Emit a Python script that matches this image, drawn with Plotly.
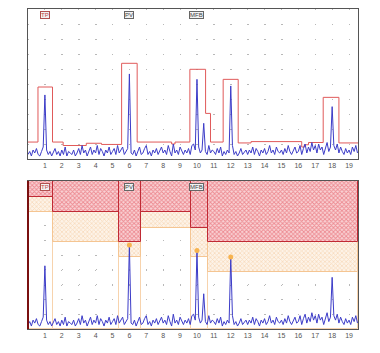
import plotly.graph_objects as go

# ---------------- data ----------------
x_ticks = list(range(1, 20))
x_max = 19.53

# spectrum (step 0.1 from 0.0)
spectrum = [
    0.3, 0.5, 0.2, 0.6, 0.4, 0.7, 0.3, 0.2, 0.5, 0.8,
    4.27, 0.6, 0.3, 0.5, 0.2, 0.4, 0.7, 0.3, 0.5, 0.2,
    0.6, 0.3, 0.8, 0.2, 0.5, 0.4, 0.3, 0.6, 0.2, 0.4,
    0.7, 0.3, 0.9, 0.4, 0.6, 0.2, 0.5, 0.8, 0.3, 0.6,
    0.4, 0.9, 0.3, 0.7, 0.5, 0.2, 0.6, 0.4, 0.8, 0.3,
    0.5, 0.7, 0.3, 0.9, 0.4, 0.6, 0.8, 0.3, 0.5, 0.7,
    5.67, 0.4, 0.3, 0.6, 0.2, 0.5, 0.8, 0.3, 0.4, 0.7,
    0.9, 0.3, 0.5, 0.2, 0.6, 0.4, 0.7, 0.3, 0.5, 0.8,
    0.4, 0.6, 0.3, 0.9, 0.5, 0.2, 1.0, 0.4, 0.6, 0.3,
    0.8, 0.5, 0.3, 0.6, 0.4, 0.7, 0.3, 0.9, 1.0, 0.6,
    5.31, 0.8, 0.4, 0.6, 2.38, 0.5, 0.3, 0.9, 0.4, 0.6,
    0.5, 0.3, 0.7, 0.4, 0.8, 0.2, 0.5, 0.3, 0.6, 0.4,
    4.87, 0.9, 0.3, 0.5, 0.2, 0.4, 0.7, 0.3, 0.5, 0.6,
    0.3, 0.6, 0.4, 0.8, 0.3, 0.7, 0.5, 0.2, 0.6, 0.4,
    0.7, 0.3, 0.5, 0.9, 0.4, 0.6, 0.3, 0.8, 0.5, 0.4,
    0.6, 0.3, 0.7, 0.4, 0.9, 0.5, 0.3, 0.6, 0.8, 0.4,
    0.5, 0.9, 0.3, 0.7, 1.0, 0.4, 0.8, 0.5, 1.1, 0.6,
    0.9, 0.4, 1.0, 0.6, 0.8, 0.3, 0.7, 1.1, 0.5, 0.8,
    3.49, 0.9, 0.6, 1.0, 0.4, 0.8, 0.5, 0.3, 0.7, 0.4,
    0.6, 0.3, 0.8, 0.5, 0.9, 0.4,
]
spectrum_x = [i / 10 for i in range(len(spectrum))]

# top panel envelope (step line)
env_x = [0, 0.59, 1.45, 2.08, 3.45, 4.35, 5.54, 6.46, 8.5, 8.7, 9.58, 10.51,
         10.80, 11.55, 12.44, 13.2, 16.2, 16.35, 16.6, 17.47, 18.4, 19.53]
env_y = [1.13, 4.8, 1.13, 0.9, 1.05, 0.97, 6.38, 1.13, 1.0, 1.13, 5.98, 3.04,
         1.13, 5.31, 1.07, 1.16, 0.8, 0.95, 1.1, 4.11, 1.07, 1.07]

# bottom panel zones
seg_start = [0, 1.45, 5.38, 6.66, 9.64, 10.66]
seg_end = [1.45, 5.38, 6.66, 9.64, 10.66, 19.53]
red_level = [8.94, 7.93, 5.9, 7.93, 6.84, 5.9]
orange_level = [7.93, 5.9, 4.89, 6.84, 4.89, 3.87]
zone_top = 10

# alarm points
alarm_x = [6, 10, 12]
alarm_y = [5.67, 5.31, 4.87]

# labels
label_text = ["TP", "PV", "MFB"]
label_x = [1, 6, 10]

# ---------------- figure ----------------
fig = go.Figure()

centers = [(a + b) / 2 for a, b in zip(seg_start, seg_end)]
widths = [b - a for a, b in zip(seg_start, seg_end)]

# white zone outlines (vertical orange edges)
fig.add_trace(go.Bar(x=centers, y=orange_level, base=[0] * len(centers), width=widths,
                     marker=dict(color="rgba(0,0,0,0)", line=dict(color="#f7d3ad", width=1)),
                     xaxis="x2", yaxis="y2", hoverinfo="skip", showlegend=False))
# orange hatch
fig.add_trace(go.Bar(x=centers, y=[r - o for r, o in zip(red_level, orange_level)], base=orange_level,
                     width=widths,
                     marker=dict(color="#fdf1e4",
                                 pattern=dict(shape="x", fgcolor="#f0bc88", bgcolor="#fdf3e8",
                                              size=3, solidity=0.4),
                                 line=dict(color="#f5c592", width=1)),
                     xaxis="x2", yaxis="y2", hoverinfo="skip", showlegend=False))
# red hatch
fig.add_trace(go.Bar(x=centers, y=[zone_top - r for r in red_level], base=red_level, width=widths,
                     marker=dict(color="#f9d9dc",
                                 pattern=dict(shape="x", fgcolor="#e0404c", bgcolor="#f9d3d6",
                                              size=3, solidity=0.5),
                                 line=dict(color="#c02a34", width=1)),
                     xaxis="x2", yaxis="y2", hoverinfo="skip", showlegend=False))

# top panel
fig.add_trace(go.Scatter(x=env_x, y=env_y, mode="lines", line=dict(color="#e05a5a", width=1, shape="hv"),
                         xaxis="x", yaxis="y", hoverinfo="skip", showlegend=False))
fig.add_trace(go.Scatter(x=spectrum_x, y=spectrum, mode="lines", line=dict(color="#3c3cc8", width=1),
                         xaxis="x", yaxis="y", hoverinfo="skip", showlegend=False))

# bottom panel spectrum
fig.add_trace(go.Scatter(x=spectrum_x, y=spectrum, mode="lines", line=dict(color="#3c3cc8", width=1),
                         xaxis="x2", yaxis="y2", hoverinfo="skip", showlegend=False))
fig.add_trace(go.Scatter(x=alarm_x, y=alarm_y, mode="markers",
                         marker=dict(color="#f7b34f", size=5),
                         xaxis="x2", yaxis="y2", hoverinfo="skip", showlegend=False))

axis_common = dict(range=[0, x_max], tickmode="array", tickvals=x_ticks,
                   ticktext=[str(t) for t in x_ticks], showgrid=True, gridcolor="#b8b8b8",
                   gridwidth=1, zeroline=False, ticks="",
                   tickfont=dict(family="Liberation Sans, Arial", size=7, color="#555"),
                   showline=True, linecolor="#555", linewidth=1, mirror=True, fixedrange=True)

fig.update_layout(
    width=380, height=353,
    margin=dict(l=28, r=22, t=9, b=24),
    paper_bgcolor="white", plot_bgcolor="white",
    barmode="overlay", bargap=0,
    xaxis=dict(axis_common, domain=[0, 1], anchor="y", griddash="1px,14px"),
    yaxis=dict(range=[0, 10], domain=[0.53125, 1], anchor="x", showticklabels=False,
               tickvals=list(range(1, 10)), showgrid=True, gridcolor="#b8b8b8", griddash="1px,15.9px",
               zeroline=False, showline=True, linecolor="#555", mirror=True, fixedrange=True),
    xaxis2=dict(axis_common, domain=[0, 1], anchor="y2", griddash="1px,13.8px"),
    yaxis2=dict(range=[0, 10], domain=[0, 0.4625], anchor="x2", showticklabels=False,
                tickvals=list(range(1, 10)), showgrid=True, gridcolor="#b8b8b8", griddash="1px,15.9px",
                zeroline=False, showline=True, linecolor="#555", mirror=True, fixedrange=True),
)

# left border of bottom panel in dark red
fig.add_shape(type="line", xref="x2 domain", yref="y2 domain", x0=0, x1=0, y0=0, y1=1,
              line=dict(color="#7a1010", width=2))

for txt, lx in zip(label_text, label_x):
    for ax_x, ax_y in (("x", "y"), ("x2", "y2")):
        is_tp = txt == "TP"
        fig.add_annotation(x=lx, y=1, xref=ax_x, yref=ax_y + " domain", yanchor="top", yshift=-2,
                           text=txt, showarrow=False,
                           font=dict(family="Liberation Sans, Arial", size=6,
                                     color="#c04848" if is_tp else "#444"),
                           bgcolor="#f2f2f2", bordercolor="#b05050" if is_tp else "#666",
                           borderwidth=1, borderpad=0)

fig.write_html("out.html")
